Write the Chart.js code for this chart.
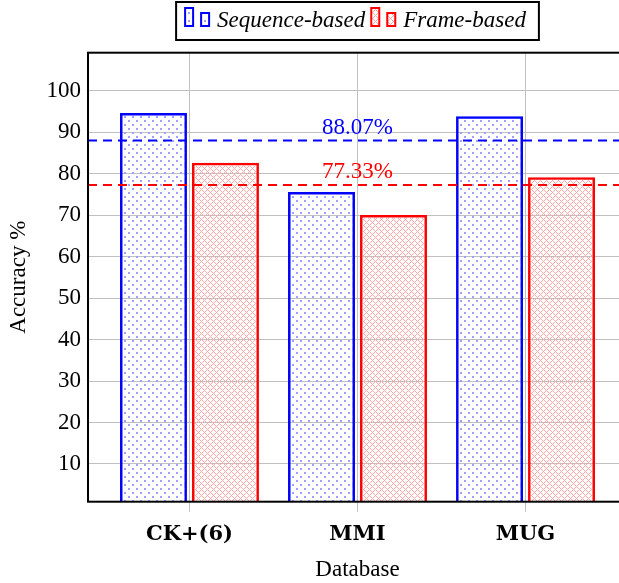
<!DOCTYPE html>
<html>
<head>
<meta charset="utf-8">
<script src="https://cdn.jsdelivr.net/npm/chart.js@4.4.0/dist/chart.umd.min.js"></script>
<style>
  html, body { margin: 0; padding: 0; background: #fff; overflow: hidden; }
  #wrap { width: 619px; height: 583px; overflow: hidden; }
</style>
</head>
<body>
<div id="wrap"><canvas id="accuracyChart" width="640" height="583"></canvas></div>
<script>
const databases = ['CK+(6)', 'MMI', 'MUG'];
const sequenceAcc = [94.7, 75.6, 93.9];
const frameAcc = [82.7, 70.1, 79.2];
const meanAcc = [88.07, 77.33];
const meanLabels = ['88.07%', '77.33%'];
const seriesNames = ['Sequence-based', 'Frame-based'];
const yTicks = [10, 20, 30, 40, 50, 60, 70, 80, 90, 100];

const serif = 'Liberation Serif';
const canvas = document.getElementById('accuracyChart');
const ctx = canvas.getContext('2d');

// fill patterns like pgfplots "crosshatch dots" / "crosshatch"
function dotPattern() {
  const c = document.createElement('canvas');
  c.width = 8; c.height = 8;
  const g = c.getContext('2d');
  g.fillStyle = '#a0a0ff';
  g.fillRect(0, 0, 2, 2);
  g.fillRect(4, 4, 2, 2);
  return ctx.createPattern(c, 'repeat');
}
function hatchPattern() {
  const c = document.createElement('canvas');
  c.width = 6; c.height = 6;
  const g = c.getContext('2d');
  g.fillStyle = '#ffa8a8';
  for (let i = 0; i < 6; i++) {
    g.fillRect(i, i, 1, 1);
    g.fillRect((6 - i) % 6, i, 1, 1);
  }
  return ctx.createPattern(c, 'repeat');
}
const dots = dotPattern();
const hatch = hatchPattern();
const seriesColors = ['#0000ff', '#ff0000'];
const seriesFills = [dots, hatch];

const extrasPlugin = {
  id: 'extras',
  afterDatasetsDraw(chart) {
    const { ctx, chartArea, scales } = chart;
    ctx.save();
    ctx.lineWidth = 2;
    ctx.setLineDash([9, 6]);
    meanAcc.forEach((v, i) => {
      const y = scales.y.getPixelForValue(v);
      ctx.strokeStyle = seriesColors[i];
      ctx.beginPath();
      ctx.moveTo(chartArea.left, y);
      ctx.lineTo(chartArea.right, y);
      ctx.stroke();
      ctx.fillStyle = seriesColors[i];
      ctx.font = '23px "' + serif + '"';
      ctx.textAlign = 'center';
      ctx.textBaseline = 'alphabetic';
      ctx.fillText(meanLabels[i], scales.x.getPixelForValue(1), y - 6.5);
    });
    ctx.restore();
  },
  afterDraw(chart) {
    const { ctx, chartArea } = chart;
    ctx.save();
    // axis frame
    ctx.strokeStyle = '#000';
    ctx.lineWidth = 2;
    ctx.strokeRect(chartArea.left, chartArea.top, chartArea.right - chartArea.left, chartArea.bottom - chartArea.top);

    // legend box
    ctx.font = 'italic 23px "' + serif + '"';
    const widths = seriesNames.map(n => ctx.measureText(n).width);
    const total = 9 + 24 + 8 + widths[0] + 6 + 24 + 8 + widths[1] + 13;
    const cx = (chartArea.left + chartArea.right) / 2;
    const left = cx - total / 2;
    ctx.fillStyle = '#fff';
    ctx.fillRect(left, 2, total, 38);
    ctx.strokeRect(left, 2, total, 38);
    let x = left + 9;
    seriesNames.forEach((name, i) => {
      ctx.lineWidth = 2;
      ctx.strokeStyle = seriesColors[i];
      ctx.fillStyle = seriesFills[i];
      ctx.fillRect(x, 8, 8, 18);
      ctx.strokeRect(x, 8, 8, 18);
      ctx.fillRect(x + 16, 13, 8, 13);
      ctx.strokeRect(x + 16, 13, 8, 13);
      x += 32;
      ctx.fillStyle = '#000';
      ctx.textAlign = 'left';
      ctx.textBaseline = 'alphabetic';
      ctx.fillText(name, x, 27);
      x += widths[i] + 6;
    });
    ctx.restore();
  }
};

new Chart(ctx, {
  type: 'bar',
  data: {
    datasets: [
      {
        label: seriesNames[0],
        data: sequenceAcc.map((v, i) => ({ x: i, y: v })),
        backgroundColor: dots,
        borderColor: seriesColors[0],
        borderWidth: 2.5,
        categoryPercentage: 0.857,
        barPercentage: 0.93
      },
      {
        label: seriesNames[1],
        data: frameAcc.map((v, i) => ({ x: i, y: v })),
        backgroundColor: hatch,
        borderColor: seriesColors[1],
        borderWidth: 2.5,
        categoryPercentage: 0.857,
        barPercentage: 0.93
      }
    ]
  },
  options: {
    responsive: false,
    animation: false,
    layout: { padding: { left: 0, top: 52.7, right: 13, bottom: 0 } },
    plugins: {
      legend: { display: false },
      tooltip: { enabled: false }
    },
    scales: {
      x: {
        type: 'linear',
        min: -0.604,
        max: 2.604,
        offset: false,
        afterBuildTicks: s => { s.ticks = databases.map((d, i) => ({ value: i })); },
        afterFit: s => { s.height = 81.3; },
        grid: { color: '#c0c0c0', tickLength: 10, offset: false },
        border: { display: false },
        ticks: {
          callback: v => databases[v],
          font: { family: 'DejaVu Serif', weight: 'bold', size: 21 },
          color: '#000',
          padding: 10,
          maxRotation: 0
        },
        title: {
          display: true,
          text: 'Database',
          font: { family: serif, size: 23, lineHeight: 1.15 },
          color: '#000',
          padding: 0
        }
      },
      y: {
        min: 0.9,
        max: 109.24,
        afterBuildTicks: s => { s.ticks = yTicks.map(v => ({ value: v })); },
        afterFit: s => { s.width = 88; },
        grid: { color: '#c0c0c0', drawTicks: false },
        border: { display: false },
        ticks: {
          font: { family: serif, size: 23 },
          color: '#000',
          padding: 7
        },
        title: {
          display: true,
          text: 'Accuracy %',
          font: { family: serif, size: 23 },
          color: '#000',
          padding: { top: 5, bottom: 0 }
        }
      }
    }
  },
  plugins: [extrasPlugin]
});
</script>
</body>
</html>
